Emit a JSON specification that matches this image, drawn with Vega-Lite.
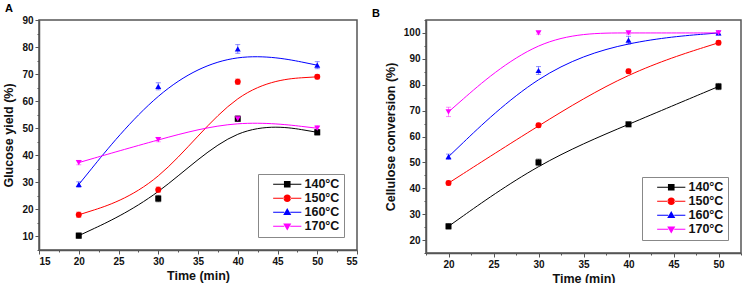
{
  "$schema": "https://vega.github.io/schema/vega-lite/v6.json",
  "padding": {"left": 2, "top": 2, "right": 2, "bottom": 0},
  "background": "white",
  "data": {"name": "pts"},
  "datasets": {
    "pts": [
      {"panel": "A", "temp": "140°C", "time": 20, "value": 10.3, "err": 1.0},
      {"panel": "A", "temp": "140°C", "time": 30, "value": 24.0, "err": 1.2},
      {"panel": "A", "temp": "140°C", "time": 40, "value": 53.5, "err": 1.0},
      {"panel": "A", "temp": "140°C", "time": 50, "value": 48.5, "err": 1.0},
      {"panel": "A", "temp": "150°C", "time": 20, "value": 18.0, "err": 1.0},
      {"panel": "A", "temp": "150°C", "time": 30, "value": 27.3, "err": 1.0},
      {"panel": "A", "temp": "150°C", "time": 40, "value": 67.2, "err": 1.0},
      {"panel": "A", "temp": "150°C", "time": 50, "value": 69.0, "err": 0.8},
      {"panel": "A", "temp": "160°C", "time": 20, "value": 29.2, "err": 1.0},
      {"panel": "A", "temp": "160°C", "time": 30, "value": 65.5, "err": 1.3},
      {"panel": "A", "temp": "160°C", "time": 40, "value": 79.3, "err": 1.6},
      {"panel": "A", "temp": "160°C", "time": 50, "value": 73.3, "err": 1.3},
      {"panel": "A", "temp": "170°C", "time": 20, "value": 37.3, "err": 0.8},
      {"panel": "A", "temp": "170°C", "time": 30, "value": 45.8, "err": 0.8},
      {"panel": "A", "temp": "170°C", "time": 40, "value": 53.5, "err": 1.0},
      {"panel": "A", "temp": "170°C", "time": 50, "value": 50.0, "err": 1.0},
      {"panel": "B", "temp": "140°C", "time": 20, "value": 25.3, "err": 1.0},
      {"panel": "B", "temp": "140°C", "time": 30, "value": 50.0, "err": 1.3},
      {"panel": "B", "temp": "140°C", "time": 40, "value": 64.7, "err": 0.8},
      {"panel": "B", "temp": "140°C", "time": 50, "value": 79.3, "err": 1.2},
      {"panel": "B", "temp": "150°C", "time": 20, "value": 42.0, "err": 0.8},
      {"panel": "B", "temp": "150°C", "time": 30, "value": 64.3, "err": 0.8},
      {"panel": "B", "temp": "150°C", "time": 40, "value": 85.2, "err": 0.8},
      {"panel": "B", "temp": "150°C", "time": 50, "value": 96.2, "err": 0.8},
      {"panel": "B", "temp": "160°C", "time": 20, "value": 52.2, "err": 1.0},
      {"panel": "B", "temp": "160°C", "time": 30, "value": 85.5, "err": 1.5},
      {"panel": "B", "temp": "160°C", "time": 40, "value": 97.2, "err": 1.5},
      {"panel": "B", "temp": "160°C", "time": 50, "value": 100.0, "err": 0.8},
      {"panel": "B", "temp": "170°C", "time": 20, "value": 69.5, "err": 1.8},
      {"panel": "B", "temp": "170°C", "time": 30, "value": 100.0, "err": 0.5},
      {"panel": "B", "temp": "170°C", "time": 40, "value": 100.0, "err": 0.5},
      {"panel": "B", "temp": "170°C", "time": 50, "value": 100.0, "err": 0.5}
    ]
  },
  "config": {
    "font": "Liberation Sans",
    "view": {"stroke": "#555555", "strokeWidth": 1.5},
    "axis": {
      "domainColor": "#555555",
      "domainWidth": 1.5,
      "tickColor": "#555555",
      "grid": false,
      "labelFont": "Liberation Sans",
      "labelFontWeight": "bold",
      "labelFontSize": 10,
      "labelColor": "#111111",
      "titleFont": "Liberation Sans",
      "titleFontWeight": "bold",
      "titleFontSize": 12.5,
      "titleColor": "#111111",
      "labelPadding": 2
    },
    "title": {"fontSize": 11, "fontWeight": "bold", "anchor": "start", "frame": "group", "font": "Liberation Sans"},
    "legend": {
      "orient": "bottom-right",
      "offset": 13,
      "strokeColor": "#888888",
      "fillColor": "white",
      "padding": 4,
      "labelFont": "Liberation Sans",
      "labelFontWeight": "bold",
      "labelFontSize": 12.5,
      "labelColor": "#111111",
      "symbolSize": 36,
      "symbolStrokeWidth": 0,
      "symbolOpacity": 1,
      "symbolOffset": 19,
      "labelOffset": 11,
      "rowPadding": 1,
      "title": null
    }
  },
  "resolve": {"scale": {"color": "independent", "shape": "independent"}, "legend": {"color": "independent", "shape": "independent"}},
  "bounds": "flush",
  "spacing": 69,
  "hconcat": [
    {
      "title": {"text": "A", "dx": -34, "offset": 1},
      "width": 318,
      "height": 230,
      "transform": [{"filter": "datum.panel === 'A'"}],
      "encoding": {
        "x": {"field": "time", "type": "quantitative", "scale": {"domain": [15, 55], "nice": false},
          "axis": {"title": "Time (min)", "values": [15, 17.5, 20, 22.5, 25, 27.5, 30, 32.5, 35, 37.5, 40, 42.5, 45, 47.5, 50, 52.5, 55],
            "labelExpr": "datum.value % 5 === 0 ? datum.label : ''",
            "tickSize": {"condition": {"test": "datum.value % 5 === 0", "value": 4}, "value": 2}, "titlePadding": 3}},
        "y": {"field": "value", "type": "quantitative", "scale": {"domain": [5, 90], "nice": false},
          "axis": {"title": "Glucose yield (%)", "values": [5, 10, 15, 20, 25, 30, 35, 40, 45, 50, 55, 60, 65, 70, 75, 80, 85, 90],
            "labelExpr": "datum.value % 10 === 0 ? datum.label : ''",
            "tickSize": {"condition": {"test": "datum.value % 10 === 0", "value": 4}, "value": 2}, "titlePadding": 6}}
      },
      "layer": [
        {"mark": {"type": "line", "interpolate": "basis", "strokeWidth": 1},
         "encoding": {"color": {"field": "temp", "type": "nominal", "scale": {"domain": ["140°C", "150°C", "160°C", "170°C"], "range": ["#000000", "#ff0000", "#0000ff", "#ff00ff"]}}}},
        {"mark": {"type": "errorbar", "ticks": {"size": 5}, "opacity": 0.45},
         "encoding": {"yError": {"field": "err"}, "color": {"field": "temp", "type": "nominal"}}},
        {"transform": [{"filter": "datum.temp === '140°C'"}], "mark": {"type": "point", "shape": "square", "filled": true, "opacity": 1, "size": 36, "color": "#000000"}},
        {"transform": [{"filter": "datum.temp === '150°C'"}], "mark": {"type": "point", "shape": "circle", "filled": true, "opacity": 1, "size": 36, "color": "#ff0000"}},
        {"transform": [{"filter": "datum.temp === '160°C'"}], "mark": {"type": "point", "shape": "triangle-up", "filled": true, "opacity": 1, "size": 36, "color": "#0000ff"}},
        {"transform": [{"filter": "datum.temp === '170°C'"}], "mark": {"type": "point", "shape": "triangle-down", "filled": true, "opacity": 1, "size": 36, "color": "#ff00ff"}},
        {"mark": {"type": "point", "filled": true, "opacity": 0, "size": 36},
         "encoding": {
           "color": {"field": "temp", "type": "nominal"},
           "shape": {"field": "temp", "type": "nominal", "scale": {"domain": ["140°C", "150°C", "160°C", "170°C"], "range": [
             "M-4.7,-0.17H-1V0.17H-4.7Z M1,-0.17H4.7V0.17H1Z M-1.1,-1.1H1.1V1.1H-1.1Z",
             "M-4.7,-0.17H-1V0.17H-4.7Z M1,-0.17H4.7V0.17H1Z M-1.25,0A1.25,1.25,0,1,0,1.25,0A1.25,1.25,0,1,0,-1.25,0Z",
             "M-4.7,-0.17H-1V0.17H-4.7Z M1,-0.17H4.7V0.17H1Z M0,-1.4L1.35,0.9L-1.35,0.9Z",
             "M-4.7,-0.17H-1V0.17H-4.7Z M1,-0.17H4.7V0.17H1Z M0,1.4L1.35,-0.9L-1.35,-0.9Z"]}}
         }}
      ]
    },
    {
      "title": {"text": "B", "dx": -54, "offset": 1},
      "width": 315,
      "height": 233,
      "transform": [{"filter": "datum.panel === 'B'"}],
      "encoding": {
        "x": {"field": "time", "type": "quantitative", "scale": {"domain": [17.5, 52.5], "nice": false},
          "axis": {"title": "Time (min)", "values": [17.5, 20, 22.5, 25, 27.5, 30, 32.5, 35, 37.5, 40, 42.5, 45, 47.5, 50, 52.5],
            "labelExpr": "datum.value % 5 === 0 ? datum.label : ''",
            "tickSize": {"condition": {"test": "datum.value % 5 === 0", "value": 4}, "value": 2}, "titlePadding": 3}},
        "y": {"field": "value", "type": "quantitative", "scale": {"domain": [15, 105], "nice": false},
          "axis": {"title": "Cellulose conversion (%)", "values": [15, 20, 25, 30, 35, 40, 45, 50, 55, 60, 65, 70, 75, 80, 85, 90, 95, 100, 105],
            "labelExpr": "datum.value % 10 === 0 ? datum.label : ''",
            "tickSize": {"condition": {"test": "datum.value % 10 === 0", "value": 4}, "value": 2}, "titlePadding": 6}}
      },
      "layer": [
        {"mark": {"type": "line", "interpolate": "basis", "strokeWidth": 1},
         "encoding": {"color": {"field": "temp", "type": "nominal", "scale": {"domain": ["140°C", "150°C", "160°C", "170°C"], "range": ["#000000", "#ff0000", "#0000ff", "#ff00ff"]}}}},
        {"mark": {"type": "errorbar", "ticks": {"size": 5}, "opacity": 0.45},
         "encoding": {"yError": {"field": "err"}, "color": {"field": "temp", "type": "nominal"}}},
        {"transform": [{"filter": "datum.temp === '140°C'"}], "mark": {"type": "point", "shape": "square", "filled": true, "opacity": 1, "size": 36, "color": "#000000"}},
        {"transform": [{"filter": "datum.temp === '150°C'"}], "mark": {"type": "point", "shape": "circle", "filled": true, "opacity": 1, "size": 36, "color": "#ff0000"}},
        {"transform": [{"filter": "datum.temp === '160°C'"}], "mark": {"type": "point", "shape": "triangle-up", "filled": true, "opacity": 1, "size": 36, "color": "#0000ff"}},
        {"transform": [{"filter": "datum.temp === '170°C'"}], "mark": {"type": "point", "shape": "triangle-down", "filled": true, "opacity": 1, "size": 36, "color": "#ff00ff"}},
        {"mark": {"type": "point", "filled": true, "opacity": 0, "size": 36},
         "encoding": {
           "color": {"field": "temp", "type": "nominal"},
           "shape": {"field": "temp", "type": "nominal", "scale": {"domain": ["140°C", "150°C", "160°C", "170°C"], "range": [
             "M-4.7,-0.17H-1V0.17H-4.7Z M1,-0.17H4.7V0.17H1Z M-1.1,-1.1H1.1V1.1H-1.1Z",
             "M-4.7,-0.17H-1V0.17H-4.7Z M1,-0.17H4.7V0.17H1Z M-1.25,0A1.25,1.25,0,1,0,1.25,0A1.25,1.25,0,1,0,-1.25,0Z",
             "M-4.7,-0.17H-1V0.17H-4.7Z M1,-0.17H4.7V0.17H1Z M0,-1.4L1.35,0.9L-1.35,0.9Z",
             "M-4.7,-0.17H-1V0.17H-4.7Z M1,-0.17H4.7V0.17H1Z M0,1.4L1.35,-0.9L-1.35,-0.9Z"]}}
         }}
      ]
    }
  ]
}
